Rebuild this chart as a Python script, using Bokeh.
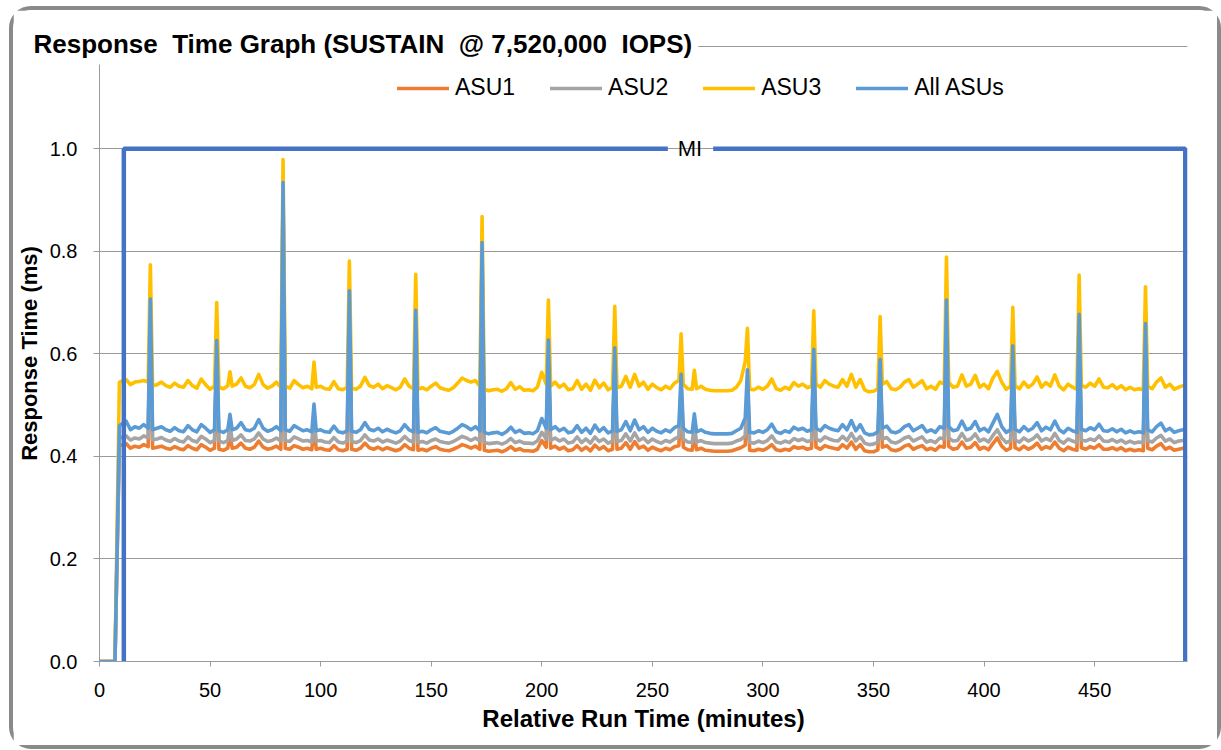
from bokeh.plotting import figure
from bokeh.models import (Range1d, FixedTicker, Legend, LegendItem, Label,
                          NumeralTickFormatter, ColumnDataSource)
from bokeh.embed import file_html
from bokeh.resources import INLINE

# ---------------- data ----------------
# sample minutes of the regular readings (start-up, then every 2 minutes)
BASE_MINUTES = [0, 7, 9] + list(range(12, 491, 2))

ALL_BASE = [0.0, 0.0, 0.460,
    0.469, 0.452, 0.458, 0.455, 0.462, 0.455, 0.452, 0.455, 0.458, 0.452, 0.449, 0.456, 0.450, 0.448, 0.460,
    0.452, 0.448, 0.462, 0.455, 0.447, 0.452, 0.450, 0.447, 0.452, 0.452, 0.455, 0.466, 0.452, 0.450, 0.455,
    0.472, 0.455, 0.449, 0.452, 0.458, 0.450, 0.452, 0.449, 0.460, 0.455, 0.450, 0.452, 0.448, 0.450, 0.452,
    0.448, 0.447, 0.459, 0.448, 0.446, 0.450, 0.449, 0.447, 0.452, 0.466, 0.453, 0.450, 0.455, 0.448, 0.453,
    0.449, 0.446, 0.450, 0.462, 0.452, 0.448, 0.447, 0.449, 0.446, 0.452, 0.456, 0.449, 0.447, 0.445, 0.449,
    0.455, 0.462, 0.458, 0.452, 0.458, 0.450, 0.447, 0.444, 0.446, 0.447, 0.443, 0.448, 0.457, 0.447, 0.451,
    0.445, 0.446, 0.444, 0.450, 0.474, 0.455, 0.452, 0.458, 0.450, 0.455, 0.446, 0.448, 0.460, 0.447, 0.455,
    0.445, 0.461, 0.449, 0.456, 0.446, 0.450, 0.449, 0.452, 0.468, 0.450, 0.471, 0.452, 0.458, 0.447, 0.455,
    0.449, 0.446, 0.452, 0.448, 0.456, 0.460, 0.455, 0.448, 0.447, 0.448, 0.452, 0.447, 0.445, 0.444, 0.444,
    0.444, 0.444, 0.445, 0.450, 0.455, 0.475, 0.447, 0.446, 0.450, 0.447, 0.452, 0.463, 0.448, 0.445, 0.450,
    0.447, 0.457, 0.452, 0.455, 0.449, 0.452, 0.455, 0.450, 0.460, 0.455, 0.452, 0.450, 0.462, 0.452, 0.470,
    0.450, 0.462, 0.446, 0.442, 0.443, 0.448, 0.455, 0.459, 0.448, 0.446, 0.450, 0.458, 0.462, 0.450, 0.455,
    0.460, 0.448, 0.452, 0.447, 0.458, 0.455, 0.458, 0.450, 0.452, 0.469, 0.452, 0.455, 0.468, 0.450, 0.455,
    0.448, 0.465, 0.482, 0.458, 0.447, 0.452, 0.453, 0.448, 0.458, 0.450, 0.455, 0.466, 0.450, 0.457, 0.452,
    0.469, 0.452, 0.446, 0.455, 0.450, 0.447, 0.453, 0.450, 0.456, 0.452, 0.463, 0.450, 0.449, 0.454, 0.448,
    0.453, 0.446, 0.450, 0.446, 0.448, 0.446, 0.452, 0.448, 0.458, 0.465, 0.450, 0.455, 0.447, 0.450, 0.452]

ASU3_BASE = [0.0, 0.0, 0.545,
    0.550, 0.540, 0.545, 0.546, 0.548, 0.545, 0.538, 0.540, 0.545, 0.538, 0.535, 0.543, 0.537, 0.535, 0.548,
    0.538, 0.533, 0.551, 0.540, 0.531, 0.537, 0.535, 0.532, 0.538, 0.537, 0.541, 0.553, 0.537, 0.534, 0.540,
    0.560, 0.540, 0.533, 0.537, 0.545, 0.535, 0.537, 0.533, 0.548, 0.540, 0.534, 0.537, 0.532, 0.535, 0.537,
    0.532, 0.531, 0.546, 0.532, 0.530, 0.535, 0.533, 0.531, 0.537, 0.554, 0.538, 0.535, 0.541, 0.532, 0.538,
    0.534, 0.530, 0.535, 0.551, 0.537, 0.532, 0.531, 0.534, 0.530, 0.537, 0.543, 0.534, 0.531, 0.529, 0.534,
    0.543, 0.553, 0.548, 0.545, 0.548, 0.537, 0.531, 0.528, 0.530, 0.531, 0.527, 0.532, 0.544, 0.531, 0.536,
    0.529, 0.530, 0.528, 0.535, 0.564, 0.541, 0.537, 0.545, 0.535, 0.541, 0.530, 0.532, 0.548, 0.531, 0.541,
    0.529, 0.549, 0.534, 0.543, 0.530, 0.535, 0.534, 0.537, 0.556, 0.535, 0.560, 0.537, 0.545, 0.531, 0.541,
    0.534, 0.530, 0.537, 0.532, 0.543, 0.548, 0.541, 0.532, 0.531, 0.532, 0.537, 0.531, 0.529, 0.528, 0.528,
    0.528, 0.528, 0.529, 0.535, 0.548, 0.585, 0.531, 0.530, 0.535, 0.531, 0.537, 0.551, 0.532, 0.529, 0.535,
    0.531, 0.544, 0.537, 0.541, 0.534, 0.537, 0.541, 0.535, 0.548, 0.541, 0.537, 0.535, 0.550, 0.537, 0.560,
    0.535, 0.550, 0.530, 0.526, 0.527, 0.532, 0.541, 0.546, 0.532, 0.530, 0.535, 0.545, 0.550, 0.535, 0.541,
    0.548, 0.532, 0.537, 0.531, 0.545, 0.541, 0.545, 0.535, 0.537, 0.559, 0.537, 0.541, 0.558, 0.535, 0.541,
    0.532, 0.553, 0.566, 0.545, 0.531, 0.537, 0.538, 0.532, 0.545, 0.535, 0.541, 0.555, 0.535, 0.544, 0.537,
    0.559, 0.537, 0.530, 0.541, 0.535, 0.531, 0.538, 0.535, 0.543, 0.537, 0.551, 0.535, 0.534, 0.540, 0.532,
    0.538, 0.530, 0.535, 0.530, 0.532, 0.530, 0.537, 0.532, 0.545, 0.553, 0.535, 0.541, 0.531, 0.535, 0.538]

ASU2_BASE = [0.0, 0.0, 0.436,
    0.440, 0.432, 0.436, 0.434, 0.440, 0.436, 0.432, 0.434, 0.437, 0.432, 0.429, 0.435, 0.430, 0.428, 0.438,
    0.431, 0.428, 0.439, 0.434, 0.427, 0.431, 0.430, 0.427, 0.431, 0.431, 0.434, 0.442, 0.431, 0.430, 0.434,
    0.446, 0.434, 0.429, 0.431, 0.436, 0.430, 0.431, 0.429, 0.438, 0.434, 0.430, 0.431, 0.428, 0.430, 0.431,
    0.428, 0.427, 0.437, 0.428, 0.426, 0.430, 0.429, 0.427, 0.431, 0.442, 0.432, 0.430, 0.434, 0.428, 0.432,
    0.429, 0.426, 0.430, 0.439, 0.431, 0.428, 0.427, 0.429, 0.426, 0.431, 0.434, 0.429, 0.427, 0.426, 0.429,
    0.434, 0.439, 0.436, 0.431, 0.436, 0.430, 0.427, 0.425, 0.426, 0.427, 0.424, 0.428, 0.435, 0.427, 0.430,
    0.426, 0.426, 0.425, 0.430, 0.447, 0.434, 0.431, 0.436, 0.430, 0.434, 0.426, 0.428, 0.438, 0.427, 0.434,
    0.426, 0.438, 0.429, 0.434, 0.426, 0.430, 0.429, 0.431, 0.444, 0.430, 0.446, 0.431, 0.436, 0.427, 0.434,
    0.429, 0.426, 0.431, 0.428, 0.434, 0.438, 0.434, 0.428, 0.427, 0.428, 0.431, 0.427, 0.426, 0.425, 0.425,
    0.425, 0.425, 0.426, 0.430, 0.433, 0.440, 0.427, 0.426, 0.430, 0.427, 0.431, 0.440, 0.428, 0.426, 0.430,
    0.427, 0.435, 0.431, 0.434, 0.429, 0.431, 0.434, 0.430, 0.438, 0.434, 0.431, 0.430, 0.439, 0.431, 0.445,
    0.430, 0.439, 0.426, 0.423, 0.424, 0.428, 0.434, 0.437, 0.428, 0.426, 0.430, 0.436, 0.439, 0.430, 0.434,
    0.438, 0.428, 0.431, 0.427, 0.436, 0.434, 0.436, 0.430, 0.431, 0.445, 0.431, 0.434, 0.444, 0.430, 0.434,
    0.428, 0.441, 0.452, 0.436, 0.427, 0.431, 0.432, 0.428, 0.436, 0.430, 0.434, 0.442, 0.430, 0.435, 0.431,
    0.445, 0.431, 0.426, 0.434, 0.430, 0.427, 0.432, 0.430, 0.434, 0.431, 0.440, 0.430, 0.429, 0.433, 0.428,
    0.432, 0.426, 0.430, 0.426, 0.428, 0.426, 0.431, 0.428, 0.436, 0.441, 0.430, 0.434, 0.427, 0.430, 0.431]

ASU1_BASE = [0.0, 0.0, 0.421,
    0.425, 0.416, 0.420, 0.418, 0.423, 0.419, 0.416, 0.418, 0.420, 0.416, 0.414, 0.419, 0.415, 0.413, 0.421,
    0.416, 0.413, 0.423, 0.418, 0.412, 0.416, 0.414, 0.412, 0.416, 0.416, 0.418, 0.426, 0.416, 0.414, 0.418,
    0.430, 0.418, 0.414, 0.416, 0.420, 0.414, 0.416, 0.414, 0.421, 0.418, 0.414, 0.416, 0.413, 0.414, 0.416,
    0.413, 0.412, 0.421, 0.413, 0.411, 0.414, 0.414, 0.412, 0.416, 0.426, 0.417, 0.414, 0.418, 0.413, 0.417,
    0.414, 0.411, 0.414, 0.423, 0.416, 0.413, 0.412, 0.414, 0.411, 0.416, 0.419, 0.414, 0.412, 0.411, 0.414,
    0.418, 0.423, 0.420, 0.416, 0.420, 0.414, 0.412, 0.410, 0.411, 0.412, 0.409, 0.413, 0.419, 0.412, 0.415,
    0.411, 0.411, 0.410, 0.414, 0.431, 0.418, 0.416, 0.420, 0.414, 0.418, 0.411, 0.413, 0.421, 0.412, 0.418,
    0.411, 0.422, 0.414, 0.419, 0.411, 0.414, 0.414, 0.416, 0.427, 0.414, 0.429, 0.416, 0.420, 0.412, 0.418,
    0.414, 0.411, 0.416, 0.413, 0.419, 0.421, 0.418, 0.413, 0.412, 0.413, 0.416, 0.412, 0.411, 0.410, 0.410,
    0.410, 0.410, 0.411, 0.414, 0.417, 0.422, 0.412, 0.411, 0.414, 0.412, 0.416, 0.423, 0.413, 0.411, 0.414,
    0.412, 0.419, 0.416, 0.418, 0.414, 0.416, 0.418, 0.414, 0.421, 0.418, 0.416, 0.414, 0.423, 0.416, 0.428,
    0.414, 0.423, 0.411, 0.409, 0.409, 0.413, 0.418, 0.421, 0.413, 0.411, 0.414, 0.420, 0.423, 0.414, 0.418,
    0.421, 0.413, 0.416, 0.412, 0.420, 0.418, 0.420, 0.414, 0.416, 0.428, 0.416, 0.418, 0.427, 0.414, 0.418,
    0.413, 0.425, 0.436, 0.420, 0.412, 0.416, 0.417, 0.413, 0.420, 0.414, 0.418, 0.426, 0.414, 0.419, 0.416,
    0.428, 0.416, 0.411, 0.418, 0.414, 0.412, 0.417, 0.414, 0.419, 0.416, 0.423, 0.414, 0.414, 0.417, 0.413,
    0.417, 0.411, 0.414, 0.411, 0.413, 0.411, 0.416, 0.413, 0.420, 0.425, 0.414, 0.418, 0.412, 0.414, 0.416]

# peak readings (minutes with a response-time spike)
SPIKE_MINUTES = [23, 53, 59, 83, 97, 113, 143, 173, 203, 233, 263, 269, 293, 323, 353, 383, 413, 443, 473]
ALL_SPIKE = [0.707, 0.626, 0.482, 0.934, 0.502, 0.723, 0.685, 0.817, 0.627, 0.612, 0.560, 0.483, 0.569,
             0.609, 0.589, 0.705, 0.616, 0.677, 0.659]
ASU3_SPIKE = [0.774, 0.700, 0.565, 0.979, 0.584, 0.781, 0.755, 0.868, 0.705, 0.693, 0.639, 0.568, 0.650,
              0.684, 0.673, 0.789, 0.691, 0.754, 0.731]
ASU2_SPIKE = [0.690, 0.605, 0.462, 0.920, 0.478, 0.705, 0.665, 0.800, 0.608, 0.592, 0.540, 0.460, 0.548,
              0.590, 0.572, 0.685, 0.597, 0.658, 0.640]
ASU1_SPIKE = [0.675, 0.590, 0.445, 0.910, 0.462, 0.690, 0.650, 0.785, 0.594, 0.578, 0.525, 0.442, 0.530,
              0.576, 0.558, 0.670, 0.582, 0.644, 0.626]

SERIES_NAMES = ["ASU1", "ASU2", "ASU3", "All ASUs"]
SERIES_COLORS = ["#ED7D31", "#A5A5A5", "#FFC000", "#5B9BD5"]

MI_START, MI_END, MI_LEVEL = 11, 491, 1.0
X_TICKS = [0, 50, 100, 150, 200, 250, 300, 350, 400, 450]
Y_TICKS = [0.0, 0.2, 0.4, 0.6, 0.8, 1.0, 1.2]

TITLE = "Response\u00a0 Time Graph (SUSTAIN\u00a0 @ 7,520,000\u00a0 IOPS)"

for arr in (ALL_BASE, ASU3_BASE, ASU2_BASE, ASU1_BASE):
    assert len(arr) == len(BASE_MINUTES), len(arr)


def merged(base, spikes):
    pts = sorted(zip(BASE_MINUTES + SPIKE_MINUTES, base + spikes))
    return dict(x=[p[0] for p in pts], y=[p[1] for p in pts])


series_data = [merged(ASU1_BASE, ASU1_SPIKE), merged(ASU2_BASE, ASU2_SPIKE),
               merged(ASU3_BASE, ASU3_SPIKE), merged(ALL_BASE, ALL_SPIKE)]

FONT = "Liberation Sans"
GRID = "#9a9a9a"

p = figure(width=1204, height=735, x_range=Range1d(0, 492), y_range=Range1d(0, 1.2015),
           output_backend="svg", toolbar_location=None,
           min_border_left=84, min_border_right=30, min_border_top=35, min_border_bottom=84)
p.margin = (10, 4, 5, 13)
p.styles = {"outline": "4px solid #8a8a8a", "outline-offset": "0px", "border-radius": "18px"}
p.outline_line_color = None
p.background_fill_color = "white"
p.border_fill_color = "white"

# title sitting on the top border line
p.title.text = TITLE
p.title.align = "left"
p.title.offset = -72
p.title.standoff = -38
p.title.text_font = FONT
p.title.text_font_style = "bold"
p.title.text_font_size = "26px"
p.title.text_color = "black"
p.title.background_fill_color = "white"
p.title.padding = 6

# axes
p.xaxis.ticker = FixedTicker(ticks=X_TICKS)
p.yaxis.ticker = FixedTicker(ticks=Y_TICKS)
p.yaxis.formatter = NumeralTickFormatter(format="0.0")
p.yaxis.major_label_overrides = {1.2: ""}
for ax in (p.xaxis[0], p.yaxis[0]):
    ax.axis_line_color = GRID
    ax.major_tick_line_color = GRID
    ax.minor_tick_line_color = None
    ax.major_tick_in = 0
    ax.major_label_text_font = FONT
    ax.major_label_text_font_size = "20px"
    ax.major_label_text_color = "black"
    ax.axis_label_text_font = FONT
    ax.axis_label_text_font_style = "bold"
    ax.axis_label_text_color = "black"
p.xaxis.axis_label_text_font_size = "24px"
p.yaxis.axis_label_text_font_size = "22px"
p.xaxis.major_tick_out = 5
p.yaxis.major_tick_out = 6
p.xaxis.major_label_standoff = 16
p.yaxis.major_label_standoff = 16
p.xaxis.axis_label = "Relative Run Time (minutes)"
p.yaxis.axis_label = "Response Time (ms)"
p.xaxis.axis_label_standoff = 5
p.yaxis.axis_label_standoff = 5

p.xgrid.visible = False
p.ygrid.grid_line_color = GRID
p.ygrid.grid_line_width = 1

renderers = []
for name, color, data in zip(SERIES_NAMES, SERIES_COLORS, series_data):
    r = p.line("x", "y", source=ColumnDataSource(data), line_color=color, line_width=3.6,
               line_join="round", line_cap="round")
    renderers.append(r)

# measurement interval bracket
BR = "#4472C4"
p.line([MI_START, MI_START, 257], [0, MI_LEVEL, MI_LEVEL], line_color=BR, line_width=4.5)
p.line([277.5, MI_END, MI_END], [MI_LEVEL, MI_LEVEL, 0], line_color=BR, line_width=4.5)
p.add_layout(Label(x=(MI_START + MI_END) / 2 + 16, y=MI_LEVEL, text="MI", text_align="center",
                   text_baseline="middle", text_font=FONT, text_font_size="22px",
                   text_color="black"))

legend = Legend(items=[LegendItem(label=n, renderers=[r]) for n, r in zip(SERIES_NAMES, renderers)],
                orientation="horizontal", location=(298, 560), glyph_width=52, glyph_height=20,
                label_standoff=6, spacing=35, padding=0, margin=0,
                border_line_color=None, background_fill_alpha=0,
                label_text_font=FONT, label_text_font_size="23px", label_text_color="black")
p.add_layout(legend)

open("out.html", "w").write(file_html(p, INLINE))
